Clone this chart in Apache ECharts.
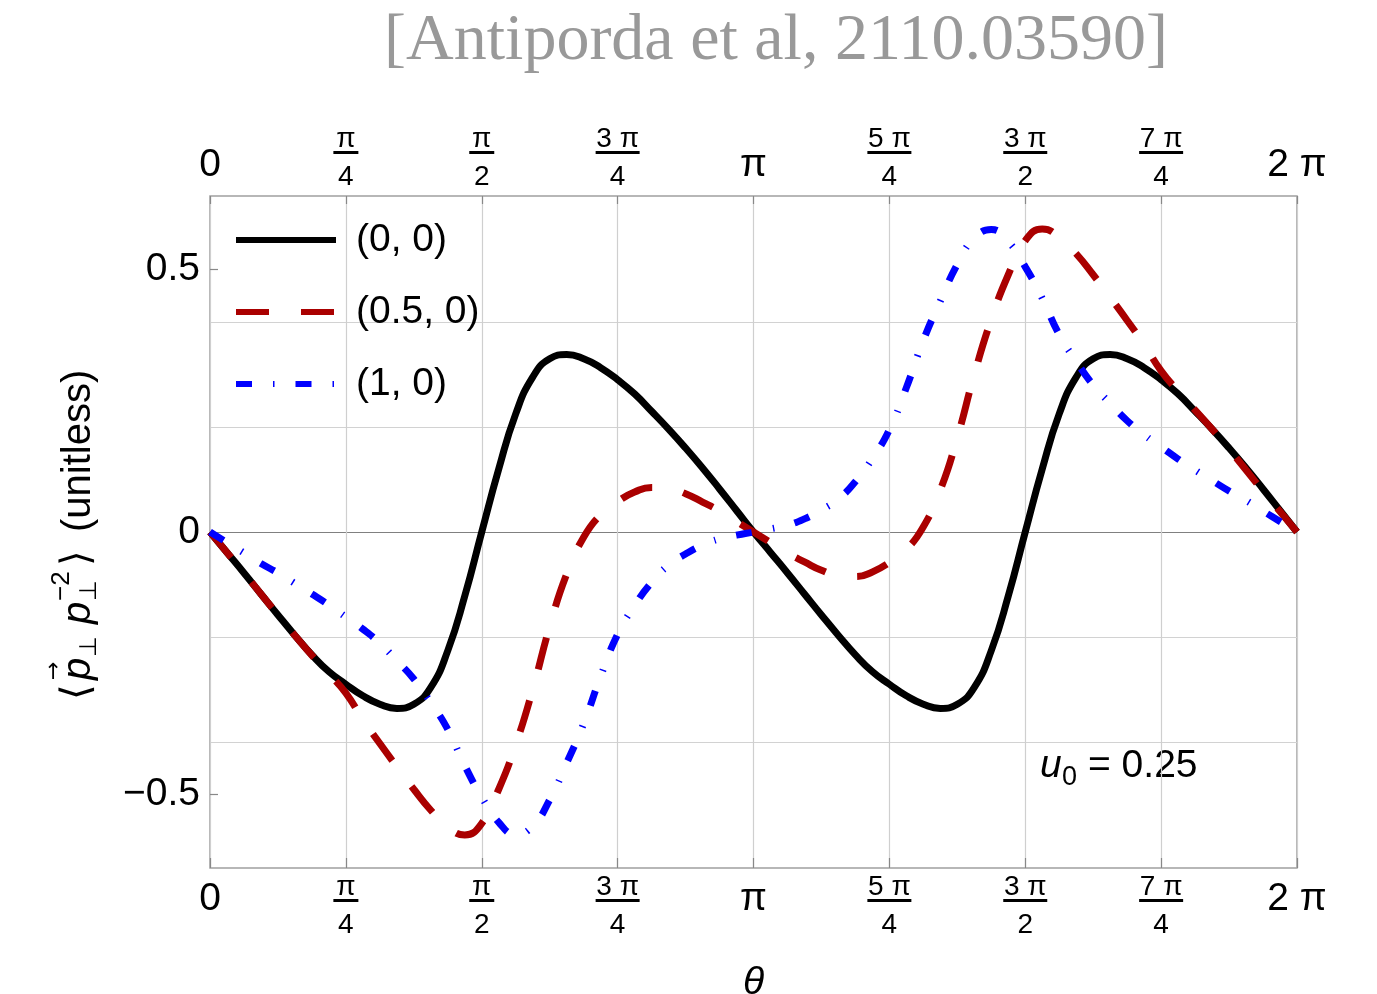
<!DOCTYPE html>
<html><head><meta charset="utf-8">
<script src="https://cdn.jsdelivr.net/npm/echarts@6/dist/echarts.min.js"></script>
<style>html,body{margin:0;padding:0;background:#fff}#c{width:1377px;height:994px}</style>
</head><body><div id="c"></div>
<script>
// theta in units of pi/4
const THETA_PI4 = [0,0.125,0.25,0.375,0.5,0.625,0.75,0.875,1,1.125,1.25,1.375,1.5,1.625,1.75,1.875,2,2.125,2.25,2.375,2.5,2.625,2.75,2.875,3,3.125,3.25,3.375,3.5,3.625,3.75,3.875,4,4.125,4.25,4.375,4.5,4.625,4.75,4.875,5,5.125,5.25,5.375,5.5,5.625,5.75,5.875,6,6.125,6.25,6.375,6.5,6.625,6.75,6.875,7,7.125,7.25,7.375,7.5,7.625,7.75,7.875,8];
const S_00 = [0,-0.039,-0.078,-0.118,-0.158,-0.197,-0.234,-0.266,-0.29,-0.312,-0.328,-0.336,-0.328,-0.296,-0.226,-0.122,0,0.12,0.225,0.295,0.33,0.338,0.33,0.313,0.29,0.263,0.23,0.196,0.16,0.122,0.082,0.041,0,-0.039,-0.078,-0.118,-0.158,-0.197,-0.234,-0.266,-0.29,-0.312,-0.328,-0.336,-0.328,-0.296,-0.226,-0.122,0,0.12,0.225,0.295,0.33,0.338,0.33,0.313,0.29,0.263,0.23,0.196,0.16,0.122,0.082,0.041,0];
const S_05 = [0,-0.039,-0.078,-0.118,-0.158,-0.197,-0.235,-0.27,-0.307,-0.357,-0.403,-0.447,-0.49,-0.53,-0.562,-0.577,-0.555,-0.49,-0.405,-0.3,-0.18,-0.08,-0.01,0.033,0.058,0.076,0.085,0.083,0.073,0.057,0.04,0.02,0,-0.02,-0.04,-0.057,-0.073,-0.083,-0.085,-0.076,-0.058,-0.033,0.01,0.08,0.18,0.3,0.405,0.49,0.555,0.577,0.562,0.53,0.49,0.447,0.403,0.357,0.307,0.268,0.232,0.196,0.158,0.118,0.078,0.039,0];
const S_10 = [0,-0.02,-0.04,-0.06,-0.078,-0.098,-0.118,-0.139,-0.162,-0.185,-0.212,-0.245,-0.28,-0.325,-0.376,-0.445,-0.505,-0.553,-0.576,-0.56,-0.51,-0.44,-0.365,-0.275,-0.195,-0.14,-0.096,-0.063,-0.042,-0.025,-0.013,-0.006,0,0.006,0.013,0.025,0.042,0.063,0.096,0.14,0.195,0.275,0.365,0.44,0.51,0.56,0.576,0.553,0.505,0.445,0.376,0.325,0.28,0.245,0.212,0.185,0.162,0.139,0.118,0.098,0.078,0.06,0.04,0.02,0];
const SERIES_NAMES = ['(0, 0)', '(0.5, 0)', '(1, 0)'];
const X_TICK_NUM = ['0','π','π','3 π','π','5 π','3 π','7 π','2 π'];
const X_TICK_DEN = ['','4','2','4','','4','2','4',''];
const Y_LABEL_VALUES = [-0.5, 0, 0.5];
const Y_TICK_VALUES = [-0.5, 0.5];
const Y_GRID_VALUES = [-0.4, -0.2, 0, 0.2, 0.4];
const TITLE = '[Antiporda et al, 2110.03590]';
const ANNOT = ['u', '0', '= 0.25'];

const FONT = 'Liberation Sans, Arial, sans-serif';
const PI4 = Math.PI / 4;
function pairs(vals) { return THETA_PI4.map((t, i) => [t * PI4, vals[i]]); }

function xLabel(top) {
  return function (v) {
    const k = Math.round(v / PI4);
    const n = X_TICK_NUM[k], d = X_TICK_DEN[k];
    if (!d) return '{' + (top ? 'st' : 'sb') + '|' + n + '}';
    const bar = n.length > 1 ? 'barL' : 'barS';
    return '{num|' + n + '}\n{' + bar + '| }\n{den|' + d + '}';
  };
}
const richX = {
  num: { fontSize: 28, lineHeight: 23, fontFamily: FONT, color: '#000' },
  den: { fontSize: 28, lineHeight: 46, fontFamily: FONT, color: '#000' },
  barS: { width: 25, height: 3, lineHeight: 4, fontSize: 2, backgroundColor: '#000' },
  barL: { width: 44, height: 3, lineHeight: 4, fontSize: 2, backgroundColor: '#000' },
  st: { fontSize: 39, lineHeight: 39, fontFamily: FONT, color: '#000', padding: [3, 0, 0, 0] },
  sb: { fontSize: 39, lineHeight: 39, fontFamily: FONT, color: '#000', padding: [0, 0, 25, 0] }
};

const chart = echarts.init(document.getElementById('c'));
const xCommon = {
  type: 'value', min: 0, max: 2 * Math.PI, interval: PI4,
  axisLine: { show: false, onZero: false },
};
const yName = [
  { t: '⟨', x: 0, y: 0, f: '40px DejaVu Sans' },
  { t: 'p', x: 20, y: 0, f: 'italic 40px ' + FONT },
  { t: '→', x: 20, y: -25, f: '22px DejaVu Sans' },
  { t: '⊥', x: 43, y: 11, f: '24px DejaVu Sans' },
  { t: 'p', x: 76, y: 0, f: 'italic 40px ' + FONT },
  { t: '−2', x: 99, y: -17, f: '26px ' + FONT },
  { t: '⊥', x: 99, y: 11, f: '24px DejaVu Sans' },
  { t: '⟩', x: 134, y: 0, f: '40px DejaVu Sans' },
  { t: '(unitless)', x: 168, y: 0, f: '40px ' + FONT }
];
const lineCommon = { type: 'line', showSymbol: false, symbol: 'none', smooth: 0.5 };

chart.setOption({
  animation: false,
  backgroundColor: '#fff',
  textStyle: { fontFamily: FONT },
  grid: { left: 210, top: 196, width: 1087, height: 672, show: true, borderColor: '#a0a0a0', borderWidth: 1.5, backgroundColor: 'transparent', containLabel: false, outerBoundsMode: 'none' },
  legend: {
    orient: 'vertical', left: 228, top: 213, itemWidth: 100, itemHeight: 14, itemGap: 28,
    data: SERIES_NAMES,
    textStyle: { fontSize: 39, lineHeight: 44, color: '#000', fontFamily: FONT, padding: [0, 0, 0, 15] },
    lineStyle: { width: 6 },
    itemStyle: { opacity: 0 },
    selectedMode: false
  },
  xAxis: [
    Object.assign({}, xCommon, {
      position: 'bottom', name: 'θ', nameLocation: 'middle', nameGap: 96,
      nameTextStyle: { fontSize: 39, fontStyle: 'italic', color: '#000', fontFamily: FONT },
      axisTick: { show: true, inside: true, length: 10, lineStyle: { color: '#888', width: 1.2 } },
      splitLine: { show: true, lineStyle: { color: '#cfcfcf', width: 1.2 } },
      axisLabel: { show: true, margin: 44, verticalAlign: 'middle', formatter: xLabel(false), rich: richX, showMinLabel: true, showMaxLabel: true, hideOverlap: false }
    }),
    Object.assign({}, xCommon, {
      position: 'top',
      axisTick: { show: true, inside: true, length: 8, lineStyle: { color: '#888', width: 1.2 } },
      splitLine: { show: false },
      axisLabel: { show: true, margin: 32, verticalAlign: 'middle', formatter: xLabel(true), rich: richX, showMinLabel: true, showMaxLabel: true, hideOverlap: false }
    })
  ],
  yAxis: [
    {
      type: 'value', min: -0.64, max: 0.64, position: 'left',
      axisLine: { show: false, onZero: false },
      axisTick: { show: false, customValues: Y_GRID_VALUES },
      axisLabel: { show: false },
      splitLine: { show: true, lineStyle: { color: ['#d2d2d2', '#d2d2d2', '#808080', '#d2d2d2', '#d2d2d2'], width: 1.2 } }
    },
    {
      type: 'value', min: -0.64, max: 0.64, position: 'left', offset: 0,
      axisLine: { show: false, onZero: false },
      axisTick: { show: true, inside: true, length: 8, customValues: Y_TICK_VALUES, lineStyle: { color: '#888', width: 1.2 } },
      axisLabel: { show: true, margin: 10, fontSize: 39, color: '#000', fontFamily: FONT, customValues: Y_LABEL_VALUES,
        formatter: v => v === 0 ? '0' : (v < 0 ? '−' : '') + Math.abs(v) },
      splitLine: { show: false }
    }
  ],
  series: [
    Object.assign({}, lineCommon, { name: SERIES_NAMES[0], data: pairs(S_00), z: 3,
      lineStyle: { color: '#000', width: 7, join: 'round' }, itemStyle: { color: '#000' } }),
    Object.assign({}, lineCommon, { name: SERIES_NAMES[1], data: pairs(S_05), z: 4,
      lineStyle: { color: '#aa0000', width: 7, type: [33, 32] }, itemStyle: { color: '#aa0000' } }),
    Object.assign({}, lineCommon, { name: SERIES_NAMES[2], data: pairs(S_10), z: 5,
      lineStyle: { color: '#0000ff', width: 7, type: [16, 21, 1.5, 21] }, itemStyle: { color: '#0000ff' } })
  ],
  graphic: [
    { type: 'text', x: 776, y: 42, style: { text: TITLE, font: '66px Liberation Serif, Times New Roman, serif', fill: '#999999', align: 'center', verticalAlign: 'middle' } },
    { type: 'group', x: 79, y: 700, rotation: Math.PI / 2,
      children: yName.map(o => ({ type: 'text', x: o.x, y: o.y, style: { text: o.t, font: o.f, fill: '#000', align: 'left', verticalAlign: 'middle' } })) },
    { type: 'text', x: 1040, y: 766, style: { text: ANNOT[0], font: 'italic 39px ' + FONT, fill: '#000', align: 'left', verticalAlign: 'middle' } },
    { type: 'text', x: 1062, y: 778, style: { text: ANNOT[1], font: '27px ' + FONT, fill: '#000', align: 'left', verticalAlign: 'middle' } },
    { type: 'text', x: 1088, y: 766, style: { text: ANNOT[2], font: '39px ' + FONT, fill: '#000', align: 'left', verticalAlign: 'middle' } }
  ]
});
</script></body></html>
